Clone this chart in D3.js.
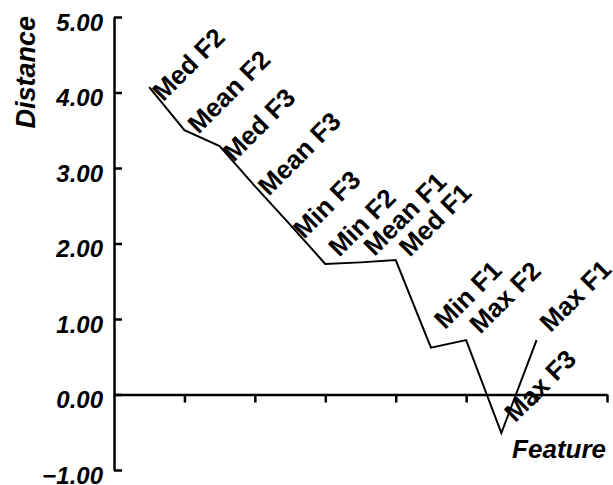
<!DOCTYPE html>
<html lang="en">
<head>
<meta charset="UTF-8">
<title>Distance by feature</title>
<script src="https://cdn.jsdelivr.net/npm/d3@7"></script>
<style>
  body { margin: 0; background: #fff; }
  svg text { font-family: "Liberation Sans", Arial, sans-serif; font-weight: bold; fill: #000; }
  .tick text, .title { font-style: italic; }
</style>
</head>
<body>
<svg id="chart" width="613" height="485"></svg>
<script>
// values
const features = ["Med F2", "Mean F2", "Med F3", "Mean F3", "Min F3", "Min F2",
                  "Mean F1", "Med F1", "Min F1", "Max F2", "Max F3", "Max F1"];
const distance = [4.07, 3.50, 3.29, 2.76, 2.25, 1.73, 1.75, 1.78, 0.62, 0.72, -0.51, 0.72];
// where each label sits, in distance units
const labelAt = [3.87, 3.44, 3.07, 2.62, 2.05, 1.81, 1.82, 1.81, 0.85, 0.79, -0.38, 0.81];
const yTicks = [-1, 0, 1, 2, 3, 4, 5];

const svg = d3.select("#chart");

// features sit at 0..11, the axis runs one step before and two after
const x = d3.scaleLinear().domain([-1, 13]).range([114, 607]);
const y = d3.scaleLinear().domain([-1, 5]).range([470, 17]);

// x axis along zero, ticks every second step, no labels
const xAxis = svg.append("g")
    .attr("transform", `translate(0,${y(0)})`)
    .call(d3.axisBottom(x).tickValues(d3.range(1, 14, 2)).tickSize(8).tickSizeOuter(0).tickFormat(""));
xAxis.selectAll("path, line").attr("stroke", "#000").attr("stroke-width", 2.5);

// y axis with ticks pointing inward
const yAxis = svg.append("g")
    .attr("transform", `translate(${x(-1)},0)`)
    .call(d3.axisLeft(y).tickValues(yTicks).tickSize(-8).tickSizeOuter(0).tickPadding(11)
        .tickFormat(d3.format(".2f")));
yAxis.selectAll("path, line").attr("stroke", "#000").attr("stroke-width", 2.5);
yAxis.selectAll("text").attr("font-size", 24).attr("dy", 13)
    .style("font-family", '"Liberation Sans", Arial, sans-serif');

// the line
const line = d3.line().x((d, i) => x(i)).y(d => y(d));
svg.append("path")
    .datum(distance)
    .attr("d", line)
    .attr("fill", "none")
    .attr("stroke", "#000")
    .attr("stroke-width", 2);

// feature labels, tilted
svg.append("g").selectAll("text")
    .data(features)
    .join("text")
    .attr("transform", (d, i) => `translate(${x(i) + 14},${y(labelAt[i])}) rotate(-45)`)
    .attr("font-size", 26)
    .text(d => d);

// axis titles
svg.append("text")
    .attr("class", "title")
    .attr("transform", `translate(35,16) rotate(-90)`)
    .attr("text-anchor", "end")
    .attr("font-size", 27)
    .text("Distance");

svg.append("text")
    .attr("class", "title")
    .attr("x", 606)
    .attr("y", 458)
    .attr("text-anchor", "end")
    .attr("font-size", 26)
    .text("Feature");
</script>
</body>
</html>
